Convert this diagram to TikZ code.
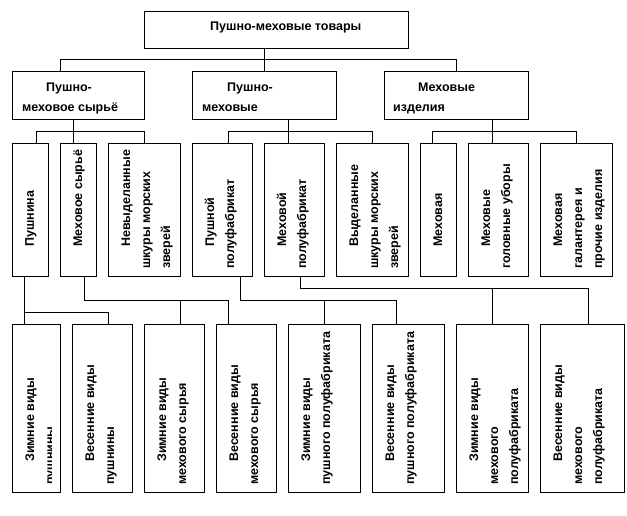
\documentclass[tikz,border=0pt]{standalone}
\usepackage{fontspec}
\setmainfont{Liberation Sans}
\usetikzlibrary{calc}
\tikzset{
  bx/.style={draw, line width=1pt, rectangle, inner sep=0pt, outer sep=0pt, anchor=north west},
  cn/.style={line width=1pt},
  vt/.style={rotate=90, anchor=base west, align=left, inner sep=0pt, font=\bfseries\fontsize{12.5}{20}\selectfont},
  ht/.style={anchor=base west, align=left, inner sep=0pt, font=\bfseries\fontsize{12.5}{20}\selectfont}
}
\begin{document}
\begin{tikzpicture}[x=1pt,y=-1pt]
\fill[white] (0,0) rectangle (627,516);
\useasboundingbox (0,0) rectangle (627,516);
% ---------- boxes ----------
\node[bx, minimum width=264pt, minimum height=37pt] (top) at (144,12) {};
\node[bx, minimum width=132pt, minimum height=48pt] (l2a) at (12,72) {};
\node[bx, minimum width=144pt, minimum height=48pt] (l2b) at (192,72) {};
\node[bx, minimum width=144pt, minimum height=48pt] (l2c) at (384,72) {};
% level 3
\node[bx, minimum width=36pt, minimum height=132pt] (b1) at (12,144) {};
\node[bx, minimum width=36pt, minimum height=132pt] (b2) at (60,144) {};
\node[bx, minimum width=72pt, minimum height=132pt] (b3) at (108,144) {};
\node[bx, minimum width=60pt, minimum height=132pt] (b4) at (192,144) {};
\node[bx, minimum width=60pt, minimum height=132pt] (b5) at (264,144) {};
\node[bx, minimum width=72pt, minimum height=132pt] (b6) at (336,144) {};
\node[bx, minimum width=36pt, minimum height=132pt] (b7) at (420,144) {};
\node[bx, minimum width=60pt, minimum height=132pt] (b8) at (468,144) {};
\node[bx, minimum width=72pt, minimum height=132pt] (b9) at (540,144) {};
% level 4
\node[bx, minimum width=48pt, minimum height=168pt] (c1) at (12,324) {};
\node[bx, minimum width=60pt, minimum height=168pt] (c2) at (72,324) {};
\node[bx, minimum width=60pt, minimum height=168pt] (c3) at (144,324) {};
\node[bx, minimum width=60pt, minimum height=168pt] (c4) at (216,324) {};
\node[bx, minimum width=72pt, minimum height=168pt] (c5) at (288,324) {};
\node[bx, minimum width=72pt, minimum height=168pt] (c6) at (372,324) {};
\node[bx, minimum width=72pt, minimum height=168pt] (c7) at (456,324) {};
\node[bx, minimum width=84pt, minimum height=168pt] (c8) at (540,324) {};
% ---------- texts (anchor = baseline of the last line) ----------
\node[ht] (t0) at (210,31) {Пушно-меховые товары};
\node[ht] (t1) at (22,112) {\hspace*{24pt}Пушно-\\меховое сырьё};
\node[ht] (t2) at (202,112) {\hspace*{25pt}Пушно-\\меховые};
\node[ht] (t3) at (393,112) {\hspace*{25pt}Меховые\\изделия};
% level 3 texts
\node[vt] (tb1) at (34,269) {\hspace*{22pt}Пушнина};
\node[vt] (tb2) at (82,269) {\hspace*{22pt}Меховое сырьё};
\node[vt] (tb3) at (170,269) {\hspace*{22pt}Невыделанные\\шкуры морских\\зверей};
\node[vt] (tb4) at (234,269) {\hspace*{22pt}Пушной\\полуфабрикат};
\node[vt] (tb5) at (306,269) {\hspace*{22pt}Меховой\\полуфабрикат};
\node[vt] (tb6) at (398,269) {\hspace*{22pt}Выделанные\\шкуры морских\\зверей};
\node[vt] (tb7) at (442,269) {\hspace*{22pt}Меховая};
\node[vt] (tb8) at (510,269) {\hspace*{22pt}Меховые\\головные уборы};
\node[vt] (tb9) at (602,269) {\hspace*{22pt}Меховая\\галантерея и\\прочие изделия};
% level 4 texts
\begin{scope}
\clip (12,324) rectangle (51,492);
\node[vt] (tc1) at (54,485) {\hspace*{23pt}Зимние виды\\пушнины};
\end{scope}
\node[vt] (tc2) at (114,485) {\hspace*{23pt}Весенние виды\\пушнины};
\node[vt] (tc3) at (186,485) {\hspace*{23pt}Зимние виды\\мехового сырья};
\node[vt] (tc4) at (258,485) {\hspace*{23pt}Весенние виды\\мехового сырья};
\node[vt] (tc5) at (330,485) {\hspace*{23pt}Зимние виды\\пушного полуфабриката};
\node[vt] (tc6) at (414,485) {\hspace*{23pt}Весенние виды\\пушного полуфабриката};
\node[vt] (tc7) at (518,485) {\hspace*{23pt}Зимние виды\\мехового\\полуфабриката};
\node[vt] (tc8) at (602,485) {\hspace*{23pt}Весенние виды\\мехового\\полуфабриката};
% ---------- connectors ----------
% top -> level 2
\draw[cn] (l2b.north |- top.south) -- (l2b.north);
\coordinate (ja) at ($(l2a.north west)+(48,0)$);
\draw[cn] (ja) -- ++(0,-12) -| (l2c.north);
% level 2 -> level 3
\coordinate (j1) at ($(b2.north west)+(13,0)$);
\draw[cn] (j1 |- l2a.south) -- (j1);
\coordinate (j1a) at ($(b1.north west)+(24,0)$);
\draw[cn] (j1a) -- ++(0,-12) -| (b3.north);
\coordinate (j2) at ($(b5.north west)+(24,0)$);
\draw[cn] (j2 |- l2b.south) -- (j2);
\coordinate (j2a) at ($(b4.north west)+(36,0)$);
\draw[cn] (j2a) -- ++(0,-12) -| (b6.north);
\coordinate (j3) at ($(b8.north west)+(24,0)$);
\draw[cn] (j3 |- l2c.south) -- (j3);
\coordinate (j3a) at ($(b7.north west)+(12,0)$);
\draw[cn] (j3a) -- ++(0,-12) -| (b9.north);
% level 3 -> level 4
\coordinate (k1) at ($(b1.south west)+(12,0)$);
\coordinate (k1c) at ($(c2.north west)+(36,0)$);
\draw[cn] (k1) -- (k1 |- c1.north);
\draw[cn] ($(k1 |- c1.north)+(0,-12)$) -| (k1c);
\coordinate (k2) at ($(b2.south west)+(24,0)$);
\coordinate (k2c) at ($(c3.north west)+(36,0)$);
\coordinate (k2d) at ($(c4.north west)+(12,0)$);
\draw[cn] (k2) -- ++(0,24) -| (k2d);
\draw[cn] ($(k2c)+(0,-24)$) -- (k2c);
\coordinate (k4) at ($(b4.south west)+(48,0)$);
\coordinate (k4d) at ($(c6.north west)+(24,0)$);
\draw[cn] (k4) -- ++(0,24) -| (k4d);
\draw[cn] ($(c5.north)+(0,-24)$) -- (c5.north);
\coordinate (k5) at ($(b5.south west)+(36,0)$);
\coordinate (k5d) at ($(c8.north west)+(48,0)$);
\draw[cn] (k5) -- ++(0,12) -| (k5d);
\draw[cn] ($(c7.north)+(0,-36)$) -- (c7.north);
\end{tikzpicture}
\end{document}
